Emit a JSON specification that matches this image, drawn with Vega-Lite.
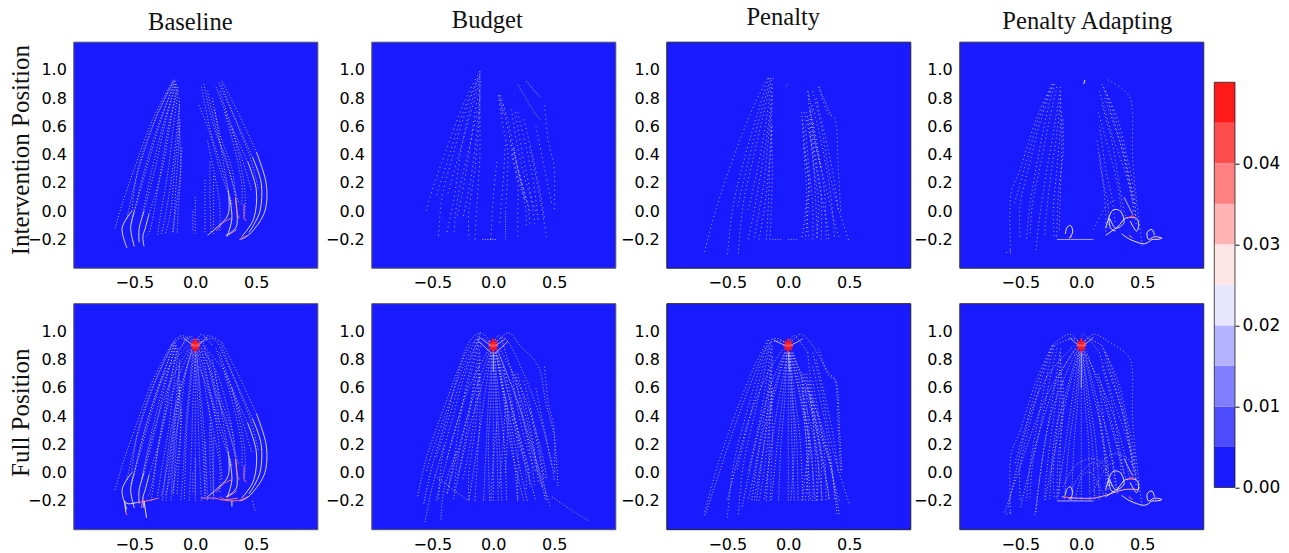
{"$schema":"https://vega.github.io/schema/vega-lite/v6.json","background":"white","padding":{"left":7.3,"top":3.7,"right":0,"bottom":0},"spacing":0,
"config":{"view":{"stroke":null},"axis":{"grid":false,"ticks":false,"domain":false,"labelFont":"DejaVu Sans","labelFontSize":16,"labelColor":"#000","labelPadding":7,"titleFont":"Liberation Serif","titleFontSize":25,"titleFontWeight":"normal","titleColor":"#111"},"title":{"font":"Liberation Serif","fontSize":24.6,"fontWeight":"normal","color":"#111"}},
"datasets":{
"s":[{"t":1,"v":0.047,"x":-0.03,"y":0.87},{"t":1,"v":0.047,"x":0.03,"y":0.93},{"t":2,"v":0.047,"x":0.03,"y":0.87},{"t":2,"v":0.047,"x":-0.03,"y":0.93},{"t":3,"v":0.047,"x":0,"y":0.85},{"t":3,"v":0.047,"x":0,"y":0.95},{"t":4,"v":0.042,"x":-0.04,"y":0.9},{"t":4,"v":0.042,"x":0.04,"y":0.9}],
"a1":[{"t":1,"x":-0.18,"y":0.93},{"t":1,"x":-0.35,"y":0.65},{"t":1,"x":-0.5,"y":0.3},{"t":1,"x":-0.6,"y":0.05},{"t":1,"x":-0.66,"y":-0.13},{"t":2,"x":-0.17,"y":0.93},{"t":2,"x":-0.33,"y":0.65},{"t":2,"x":-0.47,"y":0.3},{"t":2,"x":-0.52,"y":0.0},{"t":3,"x":-0.17,"y":0.92},{"t":3,"x":-0.28,"y":0.65},{"t":3,"x":-0.4,"y":0.3},{"t":3,"x":-0.5,"y":0.0},{"t":4,"x":-0.16,"y":0.9},{"t":4,"x":-0.24,"y":0.65},{"t":4,"x":-0.33,"y":0.3},{"t":4,"x":-0.42,"y":0.0},{"t":5,"x":-0.15,"y":0.88},{"t":5,"x":-0.2,"y":0.65},{"t":5,"x":-0.27,"y":0.3},{"t":5,"x":-0.38,"y":-0.02},{"t":6,"x":-0.14,"y":0.85},{"t":6,"x":-0.18,"y":0.6},{"t":6,"x":-0.22,"y":0.3},{"t":6,"x":-0.28,"y":0.0},{"t":6,"x":-0.31,"y":-0.17},{"t":7,"x":-0.13,"y":0.8},{"t":7,"x":-0.14,"y":0.55},{"t":7,"x":-0.17,"y":0.3},{"t":7,"x":-0.2,"y":0.0},{"t":7,"x":-0.25,"y":-0.17},{"t":8,"x":-0.13,"y":0.6},{"t":8,"x":-0.12,"y":0.3},{"t":8,"x":-0.14,"y":0.0},{"t":8,"x":-0.15,"y":-0.16},{"t":9,"x":-0.11,"y":0.45},{"t":9,"x":-0.13,"y":0.2},{"t":9,"x":-0.19,"y":-0.16},{"t":10,"x":0.0,"y":0.1},{"t":10,"x":0.0,"y":-0.16},{"t":11,"x":0.08,"y":0.22},{"t":11,"x":0.08,"y":-0.16},{"t":12,"x":0.15,"y":0.25},{"t":12,"x":0.15,"y":-0.16},{"t":13,"x":0.22,"y":0.92},{"t":13,"x":0.36,"y":0.68},{"t":13,"x":0.5,"y":0.42},{"t":14,"x":0.19,"y":0.91},{"t":14,"x":0.33,"y":0.65},{"t":14,"x":0.47,"y":0.38},{"t":15,"x":0.2,"y":0.85},{"t":15,"x":0.3,"y":0.6},{"t":15,"x":0.43,"y":0.35},{"t":16,"x":0.07,"y":0.9},{"t":16,"x":0.15,"y":0.6},{"t":16,"x":0.26,"y":0.35},{"t":16,"x":0.33,"y":0.1},{"t":17,"x":0.03,"y":0.75},{"t":17,"x":0.12,"y":0.55},{"t":17,"x":0.2,"y":0.3},{"t":17,"x":0.28,"y":0.1},{"t":18,"x":0.14,"y":0.8},{"t":18,"x":0.2,"y":0.55},{"t":18,"x":0.3,"y":0.3},{"t":18,"x":0.33,"y":0.1},{"t":19,"x":0.16,"y":0.72},{"t":19,"x":0.22,"y":0.4},{"t":19,"x":0.27,"y":0.15},{"t":20,"x":0.3,"y":0.6},{"t":20,"x":0.38,"y":0.3},{"t":20,"x":0.41,"y":0.1},{"t":20,"x":0.4,"y":-0.05},{"t":21,"x":-0.18,"y":0.92},{"t":21,"x":-0.34,"y":0.62},{"t":21,"x":-0.48,"y":0.25},{"t":21,"x":-0.56,"y":-0.05},{"t":22,"x":-0.16,"y":0.92},{"t":22,"x":-0.3,"y":0.62},{"t":22,"x":-0.42,"y":0.28},{"t":22,"x":-0.52,"y":-0.08},{"t":23,"x":-0.155,"y":0.9},{"t":23,"x":-0.26,"y":0.62},{"t":23,"x":-0.36,"y":0.28},{"t":23,"x":-0.44,"y":-0.05},{"t":24,"x":-0.14,"y":0.88},{"t":24,"x":-0.22,"y":0.6},{"t":24,"x":-0.29,"y":0.25},{"t":24,"x":-0.36,"y":-0.1},{"t":24,"x":-0.4,"y":-0.18},{"t":25,"x":-0.13,"y":0.75},{"t":25,"x":-0.16,"y":0.5},{"t":25,"x":-0.2,"y":0.2},{"t":25,"x":-0.25,"y":-0.05},{"t":25,"x":-0.28,"y":-0.17},{"t":26,"x":-0.125,"y":0.65},{"t":26,"x":-0.14,"y":0.4},{"t":26,"x":-0.16,"y":0.15},{"t":26,"x":-0.18,"y":-0.16},{"t":27,"x":0.05,"y":0.88},{"t":27,"x":0.13,"y":0.55},{"t":27,"x":0.22,"y":0.3},{"t":27,"x":0.3,"y":0.05},{"t":28,"x":0.1,"y":0.85},{"t":28,"x":0.18,"y":0.55},{"t":28,"x":0.27,"y":0.3},{"t":28,"x":0.36,"y":0.05},{"t":29,"x":0.21,"y":0.91},{"t":29,"x":0.34,"y":0.62},{"t":29,"x":0.45,"y":0.38},{"t":29,"x":0.52,"y":0.15},{"t":30,"x":0.17,"y":0.88},{"t":30,"x":0.28,"y":0.62},{"t":30,"x":0.38,"y":0.38},{"t":30,"x":0.46,"y":0.15},{"t":31,"x":0.24,"y":0.7},{"t":31,"x":0.32,"y":0.45},{"t":31,"x":0.38,"y":0.2},{"t":31,"x":0.38,"y":0.05},{"t":32,"x":0.1,"y":0.5},{"t":32,"x":0.16,"y":0.25},{"t":32,"x":0.2,"y":0.05},{"t":32,"x":0.2,"y":-0.15},{"t":33,"x":0.12,"y":0.35},{"t":33,"x":0.12,"y":0.1},{"t":33,"x":0.13,"y":-0.16},{"t":34,"x":-0.02,"y":0.0},{"t":34,"x":-0.02,"y":-0.15}],
"a1h":[{"t":1,"v":0.022,"x":-0.52,"y":0.0},{"t":1,"v":0.022,"x":-0.6,"y":-0.12},{"t":1,"v":0.022,"x":-0.56,"y":-0.26},{"t":2,"v":0.022,"x":-0.5,"y":0.0},{"t":2,"v":0.022,"x":-0.53,"y":-0.12},{"t":2,"v":0.022,"x":-0.5,"y":-0.25},{"t":3,"v":0.022,"x":-0.42,"y":0.0},{"t":3,"v":0.022,"x":-0.46,"y":-0.12},{"t":3,"v":0.022,"x":-0.46,"y":-0.22},{"t":4,"v":0.022,"x":-0.38,"y":-0.02},{"t":4,"v":0.022,"x":-0.41,"y":-0.12},{"t":4,"v":0.022,"x":-0.43,"y":-0.18},{"t":4,"v":0.022,"x":-0.42,"y":-0.25},{"t":6,"v":0.022,"x":0.5,"y":0.42},{"t":6,"v":0.022,"x":0.58,"y":0.2},{"t":6,"v":0.022,"x":0.57,"y":0.0},{"t":6,"v":0.022,"x":0.46,"y":-0.15},{"t":6,"v":0.022,"x":0.37,"y":-0.2},{"t":7,"v":0.022,"x":0.47,"y":0.38},{"t":7,"v":0.022,"x":0.54,"y":0.2},{"t":7,"v":0.022,"x":0.53,"y":0.0},{"t":7,"v":0.022,"x":0.44,"y":-0.15},{"t":8,"v":0.022,"x":0.43,"y":0.35},{"t":8,"v":0.022,"x":0.5,"y":0.15},{"t":8,"v":0.022,"x":0.48,"y":-0.05},{"t":8,"v":0.022,"x":0.38,"y":-0.18},{"t":9,"v":0.022,"x":0.33,"y":0.1},{"t":9,"v":0.022,"x":0.34,"y":-0.1},{"t":9,"v":0.022,"x":0.25,"y":-0.17},{"t":10,"v":0.022,"x":0.28,"y":0.1},{"t":10,"v":0.022,"x":0.3,"y":-0.05},{"t":10,"v":0.022,"x":0.26,"y":-0.18},{"t":11,"v":0.022,"x":0.27,"y":0.15},{"t":11,"v":0.022,"x":0.27,"y":-0.02},{"t":11,"v":0.022,"x":0.17,"y":-0.12},{"t":11,"v":0.022,"x":0.1,"y":-0.17},{"t":13,"v":0.037,"x":0.33,"y":0.1},{"t":13,"v":0.037,"x":0.34,"y":0.0},{"t":13,"v":0.037,"x":0.36,"y":-0.05},{"t":14,"v":0.037,"x":0.4,"y":0.05},{"t":14,"v":0.037,"x":0.4,"y":-0.05},{"t":14,"v":0.037,"x":0.42,"y":-0.06},{"t":15,"v":0.037,"x":0.3,"y":-0.05},{"t":15,"v":0.037,"x":0.23,"y":-0.08},{"t":15,"v":0.037,"x":0.17,"y":-0.14},{"t":16,"v":0.037,"x":0.36,"y":-0.2},{"t":16,"v":0.037,"x":0.43,"y":-0.17},{"t":17,"v":0.037,"x":0.27,"y":-0.17},{"t":17,"v":0.037,"x":0.34,"y":-0.13}],
"a2":[{"t":1,"x":0,"y":0.9},{"t":1,"x":-0.1,"y":0.97},{"t":1,"x":-0.18,"y":0.93},{"t":2,"x":0,"y":0.9},{"t":2,"x":-0.12,"y":0.95},{"t":2,"x":-0.17,"y":0.92},{"t":3,"x":0,"y":0.9},{"t":3,"x":0.1,"y":0.97},{"t":3,"x":0.22,"y":0.92},{"t":4,"x":0,"y":0.9},{"t":4,"x":0.13,"y":0.95},{"t":4,"x":0.19,"y":0.91},{"t":5,"x":0,"y":0.9},{"t":5,"x":0.05,"y":0.98},{"t":5,"x":0.14,"y":0.9},{"t":6,"x":-0.02,"y":0.88},{"t":6,"x":-0.08,"y":0.7},{"t":6,"x":-0.12,"y":0.45},{"t":6,"x":-0.17,"y":0.2},{"t":6,"x":-0.2,"y":-0.2},{"t":7,"x":-0.02,"y":0.85},{"t":7,"x":-0.05,"y":0.6},{"t":7,"x":-0.08,"y":0.3},{"t":7,"x":-0.1,"y":0},{"t":7,"x":-0.12,"y":-0.2},{"t":8,"x":0,"y":0.85},{"t":8,"x":-0.02,"y":0.5},{"t":8,"x":-0.03,"y":0.2},{"t":8,"x":-0.05,"y":-0.2},{"t":9,"x":0,"y":0.85},{"t":9,"x":0,"y":0.5},{"t":9,"x":0,"y":0.2},{"t":9,"x":0,"y":-0.2},{"t":10,"x":0,"y":0.85},{"t":10,"x":0.02,"y":0.5},{"t":10,"x":0.03,"y":0.2},{"t":10,"x":0.05,"y":-0.2},{"t":11,"x":0.01,"y":0.85},{"t":11,"x":0.05,"y":0.5},{"t":11,"x":0.08,"y":0.2},{"t":11,"x":0.1,"y":-0.2},{"t":12,"x":0.02,"y":0.85},{"t":12,"x":0.08,"y":0.6},{"t":12,"x":0.13,"y":0.3},{"t":12,"x":0.15,"y":-0.2},{"t":13,"x":-0.03,"y":0.85},{"t":13,"x":-0.12,"y":0.6},{"t":13,"x":-0.2,"y":0.3},{"t":13,"x":-0.27,"y":-0.2},{"t":14,"x":-0.04,"y":0.87},{"t":14,"x":-0.15,"y":0.65},{"t":14,"x":-0.28,"y":0.3},{"t":14,"x":-0.36,"y":-0.2},{"t":15,"x":0.03,"y":0.87},{"t":15,"x":0.13,"y":0.7},{"t":15,"x":0.2,"y":0.35},{"t":16,"x":0,"y":0.9},{"t":16,"x":-0.06,"y":0.96},{"t":16,"x":-0.14,"y":0.85},{"t":17,"x":0.47,"y":-0.2},{"t":17,"x":0.49,"y":-0.27},{"t":18,"x":-0.03,"y":0.87},{"t":18,"x":-0.1,"y":0.65},{"t":18,"x":-0.17,"y":0.35},{"t":18,"x":-0.24,"y":-0.2},{"t":19,"x":-0.01,"y":0.86},{"t":19,"x":-0.04,"y":0.6},{"t":19,"x":-0.07,"y":0.3},{"t":19,"x":-0.09,"y":-0.2},{"t":20,"x":0.01,"y":0.86},{"t":20,"x":0.03,"y":0.6},{"t":20,"x":0.06,"y":0.2},{"t":20,"x":0.08,"y":-0.2},{"t":21,"x":0.03,"y":0.86},{"t":21,"x":0.11,"y":0.6},{"t":21,"x":0.18,"y":0.3},{"t":21,"x":0.22,"y":-0.05},{"t":22,"x":-0.05,"y":0.88},{"t":22,"x":-0.2,"y":0.65},{"t":22,"x":-0.34,"y":0.3},{"t":22,"x":-0.44,"y":-0.05},{"t":23,"x":-0.06,"y":0.9},{"t":23,"x":-0.25,"y":0.7},{"t":23,"x":-0.4,"y":0.35},{"t":23,"x":-0.5,"y":0.0},{"t":24,"x":0.05,"y":0.88},{"t":24,"x":0.18,"y":0.7},{"t":24,"x":0.28,"y":0.4},{"t":24,"x":0.32,"y":0.2},{"t":25,"x":0.06,"y":0.9},{"t":25,"x":0.25,"y":0.7},{"t":25,"x":0.37,"y":0.42},{"t":26,"x":0,"y":0.9},{"t":26,"x":-0.04,"y":0.97},{"t":26,"x":-0.12,"y":0.88},{"t":27,"x":0,"y":0.9},{"t":27,"x":0.02,"y":0.95},{"t":27,"x":0.1,"y":0.88}],
"a2h":[{"t":5,"v":0.017,"x":-0.1,"y":0.96},{"t":5,"v":0.017,"x":0,"y":0.9},{"t":5,"v":0.017,"x":0.1,"y":0.96},{"t":6,"v":0.037,"x":-0.3,"y":-0.18},{"t":6,"v":0.037,"x":-0.4,"y":-0.2},{"t":6,"v":0.037,"x":-0.47,"y":-0.21},{"t":7,"v":0.037,"x":-0.43,"y":-0.18},{"t":7,"v":0.037,"x":-0.44,"y":-0.25},{"t":8,"v":0.037,"x":-0.57,"y":-0.28},{"t":8,"v":0.037,"x":-0.56,"y":-0.3},{"t":9,"v":0.037,"x":0.05,"y":-0.18},{"t":9,"v":0.037,"x":0.16,"y":-0.18},{"t":9,"v":0.037,"x":0.2,"y":-0.19},{"t":10,"v":0.037,"x":0.2,"y":-0.19},{"t":10,"v":0.037,"x":0.3,"y":-0.2},{"t":10,"v":0.037,"x":0.4,"y":-0.19},{"t":11,"v":0.037,"x":0.2,"y":-0.17},{"t":11,"v":0.037,"x":0.25,"y":-0.19},{"t":11,"v":0.037,"x":0.35,"y":-0.18},{"t":12,"v":0.022,"x":-0.47,"y":-0.21},{"t":12,"v":0.022,"x":-0.55,"y":-0.22},{"t":12,"v":0.022,"x":-0.58,"y":-0.2},{"t":13,"v":0.022,"x":0.3,"y":-0.2},{"t":13,"v":0.022,"x":0.3,"y":-0.24},{"t":14,"v":0.022,"x":-0.42,"y":-0.2},{"t":14,"v":0.022,"x":-0.4,"y":-0.32},{"t":15,"v":0.022,"x":-0.57,"y":-0.28},{"t":15,"v":0.022,"x":-0.58,"y":-0.2}],
"b1":[{"t":1,"x":-0.11,"y":0.99},{"t":1,"x":-0.25,"y":0.75},{"t":1,"x":-0.4,"y":0.4},{"t":1,"x":-0.5,"y":0.15},{"t":1,"x":-0.55,"y":0.0},{"t":2,"x":-0.11,"y":0.97},{"t":2,"x":-0.23,"y":0.7},{"t":2,"x":-0.33,"y":0.4},{"t":2,"x":-0.42,"y":0.1},{"t":2,"x":-0.45,"y":-0.2},{"t":3,"x":-0.11,"y":0.95},{"t":3,"x":-0.2,"y":0.7},{"t":3,"x":-0.27,"y":0.4},{"t":3,"x":-0.32,"y":0.1},{"t":3,"x":-0.38,"y":-0.15},{"t":4,"x":-0.1,"y":0.92},{"t":4,"x":-0.15,"y":0.7},{"t":4,"x":-0.2,"y":0.4},{"t":4,"x":-0.26,"y":0.1},{"t":4,"x":-0.3,"y":-0.05},{"t":5,"x":-0.11,"y":0.85},{"t":5,"x":-0.12,"y":0.6},{"t":5,"x":-0.15,"y":0.3},{"t":5,"x":-0.2,"y":0.0},{"t":5,"x":-0.2,"y":-0.2},{"t":6,"x":-0.11,"y":0.7},{"t":6,"x":-0.11,"y":0.4},{"t":6,"x":-0.13,"y":0.1},{"t":6,"x":-0.15,"y":-0.2},{"t":7,"x":0.04,"y":0.82},{"t":7,"x":0.08,"y":0.6},{"t":7,"x":0.12,"y":0.4},{"t":7,"x":0.1,"y":0.0},{"t":8,"x":0.06,"y":0.82},{"t":8,"x":0.13,"y":0.6},{"t":8,"x":0.2,"y":0.3},{"t":8,"x":0.28,"y":0.05},{"t":8,"x":0.3,"y":-0.1},{"t":9,"x":0.15,"y":0.72},{"t":9,"x":0.2,"y":0.45},{"t":9,"x":0.27,"y":0.2},{"t":9,"x":0.35,"y":0.0},{"t":10,"x":0.2,"y":0.7},{"t":10,"x":0.27,"y":0.45},{"t":10,"x":0.33,"y":0.2},{"t":10,"x":0.37,"y":-0.08},{"t":14,"x":0.42,"y":0.75},{"t":14,"x":0.45,"y":0.5},{"t":14,"x":0.5,"y":0.3},{"t":14,"x":0.5,"y":0.0},{"t":15,"x":0.35,"y":0.6},{"t":15,"x":0.42,"y":0.3},{"t":15,"x":0.48,"y":0.05},{"t":16,"x":0.3,"y":0.45},{"t":16,"x":0.37,"y":0.15},{"t":16,"x":0.44,"y":-0.2},{"t":17,"x":0.03,"y":0.35},{"t":17,"x":0.0,"y":0.1},{"t":17,"x":-0.02,"y":-0.2},{"t":18,"x":0.15,"y":0.4},{"t":18,"x":0.2,"y":0.2},{"t":18,"x":0.2,"y":-0.05},{"t":18,"x":0.2,"y":-0.2},{"t":20,"x":-0.11,"y":0.96},{"t":20,"x":-0.24,"y":0.72},{"t":20,"x":-0.36,"y":0.4},{"t":20,"x":-0.47,"y":0.1},{"t":21,"x":-0.12,"y":0.9},{"t":21,"x":-0.2,"y":0.65},{"t":21,"x":-0.3,"y":0.35},{"t":21,"x":-0.38,"y":0.1},{"t":22,"x":-0.11,"y":0.8},{"t":22,"x":-0.17,"y":0.55},{"t":22,"x":-0.24,"y":0.3},{"t":22,"x":-0.3,"y":0.05},{"t":22,"x":-0.32,"y":-0.15},{"t":23,"x":-0.12,"y":0.7},{"t":23,"x":-0.15,"y":0.45},{"t":23,"x":-0.19,"y":0.2},{"t":23,"x":-0.25,"y":-0.05},{"t":24,"x":0.08,"y":0.75},{"t":24,"x":0.14,"y":0.5},{"t":24,"x":0.22,"y":0.25},{"t":24,"x":0.3,"y":0.0},{"t":25,"x":0.1,"y":0.5},{"t":25,"x":0.08,"y":0.2},{"t":25,"x":0.05,"y":-0.1},{"t":26,"x":0.18,"y":0.7},{"t":26,"x":0.24,"y":0.4},{"t":26,"x":0.3,"y":0.15},{"t":26,"x":0.34,"y":-0.1},{"t":27,"x":0.14,"y":0.5},{"t":27,"x":0.18,"y":0.3},{"t":27,"x":0.26,"y":0.05},{"t":27,"x":0.27,"y":-0.12},{"t":28,"x":0.25,"y":0.65},{"t":28,"x":0.32,"y":0.4},{"t":28,"x":0.38,"y":0.15},{"t":28,"x":0.42,"y":-0.05}],
"b1h":[{"t":1,"v":0.022,"x":0.17,"y":0.45},{"t":1,"v":0.022,"x":0.2,"y":0.3},{"t":1,"v":0.022,"x":0.26,"y":0.08},{"t":2,"v":0.022,"x":0.05,"y":0.82},{"t":2,"v":0.022,"x":0.08,"y":0.68},{"t":3,"v":0.022,"x":0.27,"y":0.92},{"t":3,"v":0.022,"x":0.38,"y":0.81},{"t":4,"v":0.017,"x":0.2,"y":0.9},{"t":4,"v":0.017,"x":0.3,"y":0.75},{"t":4,"v":0.017,"x":0.38,"y":0.65},{"t":5,"v":0.022,"x":-0.09,"y":-0.2},{"t":5,"v":0.022,"x":0.03,"y":-0.2},{"t":6,"v":0.017,"x":0.1,"y":0.0},{"t":6,"v":0.017,"x":0.1,"y":-0.2},{"t":7,"v":0.017,"x":-0.11,"y":0.99},{"t":7,"v":0.017,"x":-0.11,"y":0.7}],
"b2":[{"t":1,"x":0,"y":0.9},{"t":1,"x":-0.1,"y":0.99},{"t":1,"x":-0.2,"y":0.92},{"t":1,"x":-0.28,"y":0.75},{"t":1,"x":-0.43,"y":0.4},{"t":1,"x":-0.55,"y":0.1},{"t":1,"x":-0.62,"y":-0.17},{"t":2,"x":0,"y":0.9},{"t":2,"x":-0.12,"y":0.95},{"t":2,"x":-0.25,"y":0.8},{"t":2,"x":-0.38,"y":0.4},{"t":2,"x":-0.5,"y":0.05},{"t":2,"x":-0.57,"y":-0.22},{"t":3,"x":0,"y":0.9},{"t":3,"x":0.12,"y":0.99},{"t":3,"x":0.22,"y":0.9},{"t":3,"x":0.37,"y":0.75},{"t":3,"x":0.43,"y":0.5},{"t":3,"x":0.5,"y":0.25},{"t":3,"x":0.53,"y":-0.1},{"t":4,"x":0,"y":0.9},{"t":4,"x":0.1,"y":0.95},{"t":4,"x":0.25,"y":0.7},{"t":4,"x":0.38,"y":0.4},{"t":4,"x":0.47,"y":0.1},{"t":4,"x":0.5,"y":-0.05},{"t":5,"x":0,"y":0.9},{"t":5,"x":0.05,"y":0.97},{"t":5,"x":0.12,"y":0.8},{"t":5,"x":0.25,"y":0.45},{"t":5,"x":0.35,"y":0.1},{"t":5,"x":0.47,"y":-0.25},{"t":6,"x":-0.02,"y":0.85},{"t":6,"x":-0.1,"y":0.6},{"t":6,"x":-0.2,"y":0.3},{"t":6,"x":-0.33,"y":-0.2},{"t":7,"x":-0.02,"y":0.85},{"t":7,"x":-0.07,"y":0.55},{"t":7,"x":-0.12,"y":0.25},{"t":7,"x":-0.2,"y":-0.2},{"t":8,"x":-0.01,"y":0.85},{"t":8,"x":-0.04,"y":0.5},{"t":8,"x":-0.06,"y":0.15},{"t":8,"x":-0.08,"y":-0.2},{"t":9,"x":0,"y":0.85},{"t":9,"x":0,"y":0.5},{"t":9,"x":0,"y":0.2},{"t":9,"x":0,"y":-0.2},{"t":10,"x":0,"y":0.85},{"t":10,"x":0.02,"y":0.5},{"t":10,"x":0.03,"y":0.2},{"t":10,"x":0.04,"y":-0.2},{"t":11,"x":0.01,"y":0.85},{"t":11,"x":0.05,"y":0.5},{"t":11,"x":0.09,"y":0.2},{"t":11,"x":0.11,"y":-0.2},{"t":12,"x":0.02,"y":0.85},{"t":12,"x":0.1,"y":0.5},{"t":12,"x":0.17,"y":0.1},{"t":12,"x":0.2,"y":-0.2},{"t":13,"x":0.03,"y":0.85},{"t":13,"x":0.14,"y":0.5},{"t":13,"x":0.25,"y":0.1},{"t":13,"x":0.35,"y":-0.2},{"t":14,"x":0.02,"y":0.85},{"t":14,"x":0.08,"y":0.55},{"t":14,"x":0.14,"y":0.2},{"t":14,"x":0.25,"y":-0.2},{"t":15,"x":0.03,"y":0.87},{"t":15,"x":0.18,"y":0.55},{"t":15,"x":0.33,"y":0.15},{"t":15,"x":0.43,"y":-0.2},{"t":16,"x":-0.56,"y":-0.35},{"t":16,"x":-0.5,"y":-0.1},{"t":16,"x":-0.4,"y":0.2},{"t":17,"x":-0.43,"y":-0.33},{"t":17,"x":-0.4,"y":-0.1},{"t":17,"x":-0.3,"y":0.15},{"t":18,"x":-0.48,"y":-0.02},{"t":18,"x":-0.33,"y":-0.12},{"t":18,"x":-0.2,"y":-0.2},{"t":19,"x":0.48,"y":-0.17},{"t":19,"x":0.65,"y":-0.27},{"t":19,"x":0.78,"y":-0.34},{"t":20,"x":-0.03,"y":0.86},{"t":20,"x":-0.14,"y":0.6},{"t":20,"x":-0.26,"y":0.25},{"t":20,"x":-0.38,"y":-0.15},{"t":21,"x":-0.04,"y":0.87},{"t":21,"x":-0.2,"y":0.6},{"t":21,"x":-0.33,"y":0.25},{"t":21,"x":-0.47,"y":-0.2},{"t":22,"x":0.04,"y":0.86},{"t":22,"x":0.2,"y":0.5},{"t":22,"x":0.3,"y":0.2},{"t":22,"x":0.4,"y":-0.1},{"t":23,"x":0.02,"y":0.85},{"t":23,"x":0.12,"y":0.45},{"t":23,"x":0.2,"y":0.1},{"t":23,"x":0.28,"y":-0.2},{"t":24,"x":-0.01,"y":0.85},{"t":24,"x":-0.02,"y":0.5},{"t":24,"x":-0.04,"y":0.2},{"t":24,"x":-0.03,"y":-0.2},{"t":25,"x":0.01,"y":0.85},{"t":25,"x":0.03,"y":0.5},{"t":25,"x":0.05,"y":0.2},{"t":25,"x":0.07,"y":-0.2},{"t":26,"x":0.05,"y":0.88},{"t":26,"x":0.25,"y":0.55},{"t":26,"x":0.38,"y":0.2},{"t":26,"x":0.44,"y":-0.05}],
"b2h":[{"t":4,"v":0.017,"x":-0.1,"y":0.95},{"t":4,"v":0.017,"x":0,"y":0.9},{"t":4,"v":0.017,"x":0.1,"y":0.95},{"t":5,"v":0.017,"x":0,"y":0.88},{"t":5,"v":0.017,"x":0,"y":0.72},{"t":6,"v":0.017,"x":-0.12,"y":0.93},{"t":6,"v":0.017,"x":-0.02,"y":0.85},{"t":7,"v":0.017,"x":0.12,"y":0.93},{"t":7,"v":0.017,"x":0.02,"y":0.85}],
"c1":[{"t":1,"x":-0.17,"y":0.94},{"t":1,"x":-0.28,"y":0.75},{"t":1,"x":-0.42,"y":0.45},{"t":1,"x":-0.58,"y":0.05},{"t":1,"x":-0.69,"y":-0.3},{"t":2,"x":-0.16,"y":0.94},{"t":2,"x":-0.25,"y":0.7},{"t":2,"x":-0.35,"y":0.4},{"t":2,"x":-0.45,"y":0.05},{"t":2,"x":-0.5,"y":-0.32},{"t":3,"x":-0.14,"y":0.93},{"t":3,"x":-0.2,"y":0.7},{"t":3,"x":-0.28,"y":0.4},{"t":3,"x":-0.37,"y":0.05},{"t":3,"x":-0.41,"y":-0.3},{"t":4,"x":-0.13,"y":0.9},{"t":4,"x":-0.15,"y":0.7},{"t":4,"x":-0.2,"y":0.4},{"t":4,"x":-0.28,"y":0.0},{"t":4,"x":-0.33,"y":-0.2},{"t":5,"x":-0.13,"y":0.82},{"t":5,"x":-0.14,"y":0.6},{"t":5,"x":-0.16,"y":0.3},{"t":5,"x":-0.2,"y":0.0},{"t":5,"x":-0.24,"y":-0.2},{"t":6,"x":-0.14,"y":0.6},{"t":6,"x":-0.13,"y":0.3},{"t":6,"x":-0.14,"y":0.0},{"t":6,"x":-0.15,"y":-0.2},{"t":8,"x":0.16,"y":0.85},{"t":8,"x":0.2,"y":0.55},{"t":8,"x":0.3,"y":0.2},{"t":8,"x":0.37,"y":-0.05},{"t":8,"x":0.42,"y":-0.2},{"t":9,"x":0.2,"y":0.85},{"t":9,"x":0.27,"y":0.6},{"t":9,"x":0.33,"y":0.3},{"t":9,"x":0.4,"y":0.05},{"t":9,"x":0.5,"y":-0.22},{"t":10,"x":0.25,"y":0.88},{"t":10,"x":0.32,"y":0.7},{"t":10,"x":0.39,"y":0.63},{"t":10,"x":0.41,"y":0.3},{"t":10,"x":0.43,"y":0.0},{"t":11,"x":0.13,"y":0.7},{"t":11,"x":0.2,"y":0.45},{"t":11,"x":0.25,"y":0.2},{"t":11,"x":0.32,"y":-0.1},{"t":11,"x":0.33,"y":-0.2},{"t":12,"x":0.11,"y":0.7},{"t":12,"x":0.13,"y":0.4},{"t":12,"x":0.15,"y":0.1},{"t":12,"x":0.11,"y":-0.2},{"t":13,"x":0.14,"y":0.6},{"t":13,"x":0.17,"y":0.3},{"t":13,"x":0.2,"y":0.05},{"t":13,"x":0.2,"y":-0.2},{"t":14,"x":0.17,"y":0.65},{"t":14,"x":0.23,"y":0.35},{"t":14,"x":0.27,"y":0.1},{"t":14,"x":0.27,"y":-0.2},{"t":15,"x":0.2,"y":0.75},{"t":15,"x":0.28,"y":0.45},{"t":15,"x":0.35,"y":0.1},{"t":15,"x":0.38,"y":-0.2},{"t":16,"x":-0.15,"y":0.92},{"t":16,"x":-0.23,"y":0.68},{"t":16,"x":-0.32,"y":0.38},{"t":16,"x":-0.42,"y":0.02},{"t":17,"x":-0.14,"y":0.88},{"t":17,"x":-0.18,"y":0.65},{"t":17,"x":-0.24,"y":0.35},{"t":17,"x":-0.33,"y":0.0},{"t":18,"x":-0.14,"y":0.72},{"t":18,"x":-0.17,"y":0.45},{"t":18,"x":-0.2,"y":0.2},{"t":18,"x":-0.25,"y":-0.05},{"t":18,"x":-0.28,"y":-0.2},{"t":19,"x":-0.13,"y":0.6},{"t":19,"x":-0.15,"y":0.35},{"t":19,"x":-0.16,"y":0.1},{"t":19,"x":-0.18,"y":-0.2},{"t":20,"x":0.12,"y":0.65},{"t":20,"x":0.14,"y":0.4},{"t":20,"x":0.17,"y":0.15},{"t":20,"x":0.14,"y":-0.2},{"t":21,"x":0.15,"y":0.7},{"t":21,"x":0.2,"y":0.4},{"t":21,"x":0.22,"y":0.15},{"t":21,"x":0.24,"y":-0.2},{"t":22,"x":0.18,"y":0.55},{"t":22,"x":0.21,"y":0.3},{"t":22,"x":0.25,"y":0.05},{"t":22,"x":0.23,"y":-0.2},{"t":23,"x":0.2,"y":0.65},{"t":23,"x":0.26,"y":0.35},{"t":23,"x":0.3,"y":0.1},{"t":23,"x":0.31,"y":-0.2},{"t":24,"x":0.23,"y":0.8},{"t":24,"x":0.31,"y":0.5},{"t":24,"x":0.37,"y":0.25},{"t":24,"x":0.41,"y":0},{"t":25,"x":0.13,"y":0.45},{"t":25,"x":0.17,"y":0.2},{"t":25,"x":0.15,"y":0.0},{"t":25,"x":0.17,"y":-0.2}],
"c1h":[{"t":1,"v":0.022,"x":0.18,"y":0.72},{"t":1,"v":0.022,"x":0.22,"y":0.5},{"t":1,"v":0.022,"x":0.27,"y":0.3},{"t":2,"v":0.017,"x":0.16,"y":0.85},{"t":2,"v":0.017,"x":0.2,"y":0.7},{"t":3,"v":0.017,"x":0.25,"y":0.88},{"t":3,"v":0.017,"x":0.35,"y":0.68},{"t":4,"v":0.017,"x":-0.17,"y":0.94},{"t":4,"v":0.017,"x":-0.11,"y":0.94},{"t":5,"v":0.017,"x":-0.13,"y":-0.2},{"t":5,"v":0.017,"x":-0.05,"y":-0.2},{"t":6,"v":0.017,"x":0.0,"y":-0.2},{"t":6,"v":0.017,"x":0.08,"y":-0.2},{"t":7,"v":0.017,"x":-0.02,"y":0.88},{"t":7,"v":0.017,"x":0.0,"y":0.9}],
"c2":[{"t":1,"x":0,"y":0.9},{"t":1,"x":-0.08,"y":0.95},{"t":1,"x":-0.15,"y":0.94},{"t":2,"x":0,"y":0.9},{"t":2,"x":0.1,"y":0.98},{"t":2,"x":0.2,"y":0.9},{"t":2,"x":0.32,"y":0.72},{"t":2,"x":0.4,"y":0.62},{"t":2,"x":0.42,"y":0.3},{"t":2,"x":0.44,"y":0},{"t":3,"x":0,"y":0.9},{"t":3,"x":0.05,"y":0.97},{"t":3,"x":0.16,"y":0.85},{"t":4,"x":0,"y":0.9},{"t":4,"x":-0.05,"y":0.93},{"t":4,"x":-0.17,"y":0.9},{"t":4,"x":-0.3,"y":0.65},{"t":4,"x":-0.45,"y":0.3},{"t":4,"x":-0.68,"y":-0.3},{"t":5,"x":-0.01,"y":0.85},{"t":5,"x":-0.06,"y":0.6},{"t":5,"x":-0.12,"y":0.3},{"t":5,"x":-0.2,"y":-0.2},{"t":6,"x":-0.02,"y":0.85},{"t":6,"x":-0.1,"y":0.6},{"t":6,"x":-0.18,"y":0.3},{"t":6,"x":-0.26,"y":-0.2},{"t":7,"x":-0.01,"y":0.85},{"t":7,"x":-0.03,"y":0.5},{"t":7,"x":-0.06,"y":0.2},{"t":7,"x":-0.08,"y":-0.2},{"t":8,"x":0,"y":0.85},{"t":8,"x":0,"y":0.5},{"t":8,"x":0,"y":0.2},{"t":8,"x":0,"y":-0.2},{"t":9,"x":0,"y":0.85},{"t":9,"x":0.02,"y":0.5},{"t":9,"x":0.03,"y":0.2},{"t":9,"x":0.05,"y":-0.2},{"t":10,"x":0.01,"y":0.85},{"t":10,"x":0.06,"y":0.5},{"t":10,"x":0.1,"y":0.2},{"t":10,"x":0.12,"y":-0.2},{"t":11,"x":0.01,"y":0.85},{"t":11,"x":0.08,"y":0.6},{"t":11,"x":0.14,"y":0.3},{"t":11,"x":0.18,"y":-0.2},{"t":12,"x":0.03,"y":0.85},{"t":12,"x":0.12,"y":0.55},{"t":12,"x":0.22,"y":0.2},{"t":12,"x":0.28,"y":-0.2},{"t":13,"x":0.03,"y":0.85},{"t":13,"x":0.18,"y":0.55},{"t":13,"x":0.3,"y":0.25},{"t":13,"x":0.42,"y":-0.3},{"t":14,"x":-0.03,"y":0.85},{"t":14,"x":-0.15,"y":0.6},{"t":14,"x":-0.27,"y":0.2},{"t":14,"x":-0.38,"y":-0.25},{"t":15,"x":0.15,"y":0.6},{"t":15,"x":0.25,"y":0.3},{"t":15,"x":0.35,"y":0.05},{"t":15,"x":0.4,"y":-0.3},{"t":16,"x":-0.03,"y":0.85},{"t":16,"x":-0.13,"y":0.55},{"t":16,"x":-0.23,"y":0.2},{"t":16,"x":-0.3,"y":-0.2},{"t":17,"x":-0.01,"y":0.85},{"t":17,"x":-0.05,"y":0.5},{"t":17,"x":-0.09,"y":0.2},{"t":17,"x":-0.14,"y":-0.2},{"t":18,"x":0.01,"y":0.85},{"t":18,"x":0.04,"y":0.5},{"t":18,"x":0.07,"y":0.2},{"t":18,"x":0.08,"y":-0.2},{"t":19,"x":0.02,"y":0.85},{"t":19,"x":0.1,"y":0.55},{"t":19,"x":0.17,"y":0.25},{"t":19,"x":0.22,"y":-0.2},{"t":20,"x":0.04,"y":0.85},{"t":20,"x":0.15,"y":0.55},{"t":20,"x":0.26,"y":0.2},{"t":20,"x":0.34,"y":-0.2},{"t":21,"x":0.01,"y":0.85},{"t":21,"x":0.03,"y":0.55},{"t":21,"x":0.05,"y":0.2},{"t":21,"x":0.02,"y":-0.2},{"t":22,"x":-0.05,"y":0.87},{"t":22,"x":-0.2,"y":0.65},{"t":22,"x":-0.35,"y":0.3},{"t":22,"x":-0.5,"y":-0.2}],
"c2h":[{"t":4,"v":0.017,"x":-0.12,"y":0.94},{"t":4,"v":0.017,"x":0,"y":0.9},{"t":4,"v":0.017,"x":0.12,"y":0.95},{"t":5,"v":0.017,"x":0,"y":0.86},{"t":5,"v":0.017,"x":0.01,"y":0.72}],
"d1":[{"t":1,"x":-0.24,"y":0.9},{"t":1,"x":-0.37,"y":0.65},{"t":1,"x":-0.5,"y":0.3},{"t":1,"x":-0.58,"y":0.1},{"t":1,"x":-0.58,"y":-0.3},{"t":2,"x":-0.23,"y":0.9},{"t":2,"x":-0.33,"y":0.65},{"t":2,"x":-0.42,"y":0.35},{"t":2,"x":-0.5,"y":0.05},{"t":2,"x":-0.5,"y":-0.2},{"t":3,"x":-0.22,"y":0.9},{"t":3,"x":-0.28,"y":0.7},{"t":3,"x":-0.35,"y":0.4},{"t":3,"x":-0.42,"y":0.05},{"t":3,"x":-0.45,"y":-0.2},{"t":4,"x":-0.17,"y":0.88},{"t":4,"x":-0.22,"y":0.6},{"t":4,"x":-0.3,"y":0.2},{"t":4,"x":-0.35,"y":-0.1},{"t":4,"x":-0.37,"y":-0.28},{"t":5,"x":-0.17,"y":0.85},{"t":5,"x":-0.17,"y":0.6},{"t":5,"x":-0.2,"y":0.3},{"t":5,"x":-0.23,"y":0},{"t":5,"x":-0.22,"y":-0.18},{"t":6,"x":-0.15,"y":0.65},{"t":6,"x":-0.15,"y":0.4},{"t":6,"x":-0.19,"y":0.1},{"t":6,"x":-0.2,"y":-0.18},{"t":7,"x":0.17,"y":0.9},{"t":7,"x":0.3,"y":0.65},{"t":7,"x":0.37,"y":0.4},{"t":7,"x":0.43,"y":0.15},{"t":7,"x":0.45,"y":-0.1},{"t":8,"x":0.22,"y":0.93},{"t":8,"x":0.38,"y":0.83},{"t":8,"x":0.42,"y":0.7},{"t":8,"x":0.42,"y":0.4},{"t":8,"x":0.45,"y":0.1},{"t":8,"x":0.5,"y":-0.25},{"t":9,"x":0.15,"y":0.85},{"t":9,"x":0.25,"y":0.55},{"t":9,"x":0.35,"y":0.3},{"t":9,"x":0.42,"y":0.1},{"t":9,"x":0.42,"y":-0.05},{"t":10,"x":0.17,"y":0.75},{"t":10,"x":0.25,"y":0.5},{"t":10,"x":0.3,"y":0.25},{"t":10,"x":0.35,"y":0},{"t":10,"x":0.38,"y":-0.05},{"t":11,"x":0.15,"y":0.6},{"t":11,"x":0.2,"y":0.3},{"t":11,"x":0.25,"y":0.1},{"t":11,"x":0.28,"y":-0.1},{"t":12,"x":0.15,"y":0.4},{"t":12,"x":0.18,"y":0.2},{"t":12,"x":0.2,"y":0},{"t":12,"x":0.2,"y":-0.15},{"t":13,"x":0.19,"y":0.8},{"t":13,"x":0.33,"y":0.45},{"t":13,"x":0.4,"y":0.15},{"t":13,"x":0.45,"y":-0.05},{"t":15,"x":-0.58,"y":-0.28},{"t":15,"x":-0.63,"y":-0.3},{"t":16,"x":0.1,"y":-0.13},{"t":16,"x":0.2,"y":0.03},{"t":16,"x":0.28,"y":0.08},{"t":17,"x":-0.235,"y":0.9},{"t":17,"x":-0.35,"y":0.65},{"t":17,"x":-0.46,"y":0.32},{"t":17,"x":-0.55,"y":0.05},{"t":18,"x":-0.2,"y":0.88},{"t":18,"x":-0.26,"y":0.65},{"t":18,"x":-0.33,"y":0.35},{"t":18,"x":-0.4,"y":0.05},{"t":18,"x":-0.42,"y":-0.18},{"t":19,"x":-0.17,"y":0.8},{"t":19,"x":-0.2,"y":0.55},{"t":19,"x":-0.25,"y":0.25},{"t":19,"x":-0.29,"y":-0.05},{"t":19,"x":-0.3,"y":-0.18},{"t":20,"x":-0.16,"y":0.7},{"t":20,"x":-0.16,"y":0.45},{"t":20,"x":-0.17,"y":0.2},{"t":20,"x":-0.18,"y":-0.15},{"t":21,"x":0.18,"y":0.88},{"t":21,"x":0.28,"y":0.6},{"t":21,"x":0.36,"y":0.35},{"t":21,"x":0.44,"y":0.05},{"t":22,"x":0.2,"y":0.85},{"t":22,"x":0.3,"y":0.6},{"t":22,"x":0.38,"y":0.3},{"t":22,"x":0.42,"y":0.05},{"t":23,"x":0.14,"y":0.7},{"t":23,"x":0.22,"y":0.45},{"t":23,"x":0.3,"y":0.18},{"t":23,"x":0.33,"y":-0.02},{"t":24,"x":0.13,"y":0.5},{"t":24,"x":0.17,"y":0.25},{"t":24,"x":0.22,"y":0.05},{"t":24,"x":0.22,"y":-0.12}],
"d1h":[{"t":1,"v":0.022,"x":-0.13,"y":-0.16},{"t":1,"v":0.022,"x":-0.12,"y":-0.12},{"t":1,"v":0.022,"x":-0.09,"y":-0.1},{"t":1,"v":0.022,"x":-0.07,"y":-0.14},{"t":1,"v":0.022,"x":-0.09,"y":-0.19},{"t":2,"v":0.032,"x":-0.1,"y":-0.19},{"t":2,"v":0.032,"x":-0.08,"y":-0.17},{"t":3,"v":0.017,"x":-0.2,"y":-0.2},{"t":3,"v":0.017,"x":-0.1,"y":-0.2},{"t":3,"v":0.017,"x":0.1,"y":-0.2},{"t":4,"v":0.022,"x":0.2,"y":-0.12},{"t":4,"v":0.022,"x":0.25,"y":0.0},{"t":4,"v":0.022,"x":0.32,"y":0.0},{"t":4,"v":0.022,"x":0.35,"y":-0.08},{"t":4,"v":0.022,"x":0.28,"y":-0.12},{"t":4,"v":0.022,"x":0.23,"y":-0.05},{"t":4,"v":0.022,"x":0.24,"y":-0.12},{"t":4,"v":0.022,"x":0.28,"y":-0.14},{"t":5,"v":0.022,"x":0.2,"y":-0.17},{"t":5,"v":0.022,"x":0.3,"y":-0.11},{"t":5,"v":0.022,"x":0.36,"y":-0.05},{"t":5,"v":0.022,"x":0.45,"y":-0.05},{"t":5,"v":0.022,"x":0.47,"y":-0.1},{"t":5,"v":0.022,"x":0.45,"y":-0.14},{"t":5,"v":0.022,"x":0.4,"y":-0.07},{"t":6,"v":0.022,"x":0.33,"y":-0.16},{"t":6,"v":0.022,"x":0.4,"y":-0.2},{"t":6,"v":0.022,"x":0.5,"y":-0.23},{"t":6,"v":0.022,"x":0.55,"y":-0.22},{"t":6,"v":0.022,"x":0.58,"y":-0.2},{"t":6,"v":0.022,"x":0.62,"y":-0.2},{"t":6,"v":0.022,"x":0.66,"y":-0.19},{"t":6,"v":0.022,"x":0.6,"y":-0.18},{"t":6,"v":0.022,"x":0.55,"y":-0.2},{"t":6,"v":0.022,"x":0.54,"y":-0.15},{"t":6,"v":0.022,"x":0.58,"y":-0.13},{"t":6,"v":0.022,"x":0.6,"y":-0.17},{"t":7,"v":0.042,"x":0.38,"y":-0.05},{"t":7,"v":0.042,"x":0.42,"y":-0.03},{"t":8,"v":0.042,"x":0.4,"y":-0.04},{"t":8,"v":0.042,"x":0.44,"y":-0.04},{"t":9,"v":0.042,"x":0.6,"y":-0.2},{"t":9,"v":0.042,"x":0.62,"y":-0.18},{"t":10,"v":0.037,"x":0.39,"y":-0.17},{"t":10,"v":0.037,"x":0.42,"y":-0.19},{"t":11,"v":0.022,"x":0.02,"y":0.9},{"t":11,"v":0.022,"x":0.03,"y":0.93},{"t":12,"v":0.017,"x":0.35,"y":0.1},{"t":12,"v":0.017,"x":0.42,"y":-0.02}],
"d2":[{"t":1,"x":0,"y":0.9},{"t":1,"x":-0.1,"y":0.98},{"t":1,"x":-0.24,"y":0.9},{"t":2,"x":0,"y":0.9},{"t":2,"x":0.1,"y":0.98},{"t":2,"x":0.22,"y":0.93},{"t":3,"x":0,"y":0.9},{"t":3,"x":-0.07,"y":0.95},{"t":3,"x":-0.22,"y":0.9},{"t":4,"x":0,"y":0.9},{"t":4,"x":0.05,"y":0.95},{"t":4,"x":0.17,"y":0.9},{"t":5,"x":0,"y":0.9},{"t":5,"x":0.02,"y":0.98},{"t":5,"x":0.15,"y":0.85},{"t":6,"x":-0.02,"y":0.85},{"t":6,"x":-0.1,"y":0.6},{"t":6,"x":-0.18,"y":0.3},{"t":6,"x":-0.3,"y":-0.2},{"t":7,"x":-0.02,"y":0.85},{"t":7,"x":-0.07,"y":0.55},{"t":7,"x":-0.13,"y":0.2},{"t":7,"x":-0.2,"y":-0.2},{"t":8,"x":-0.01,"y":0.85},{"t":8,"x":-0.03,"y":0.5},{"t":8,"x":-0.06,"y":0.2},{"t":8,"x":-0.08,"y":-0.2},{"t":9,"x":0,"y":0.85},{"t":9,"x":0,"y":0.5},{"t":9,"x":0,"y":0.2},{"t":9,"x":0,"y":-0.2},{"t":10,"x":0,"y":0.85},{"t":10,"x":0.03,"y":0.5},{"t":10,"x":0.06,"y":0.2},{"t":10,"x":0.07,"y":-0.2},{"t":11,"x":0.01,"y":0.85},{"t":11,"x":0.07,"y":0.5},{"t":11,"x":0.12,"y":0.2},{"t":11,"x":0.15,"y":-0.2},{"t":12,"x":0.03,"y":0.85},{"t":12,"x":0.12,"y":0.55},{"t":12,"x":0.22,"y":0.25},{"t":12,"x":0.3,"y":-0.15},{"t":13,"x":0.03,"y":0.85},{"t":13,"x":0.2,"y":0.55},{"t":13,"x":0.32,"y":0.25},{"t":13,"x":0.4,"y":-0.05},{"t":14,"x":-0.03,"y":0.87},{"t":14,"x":-0.15,"y":0.65},{"t":14,"x":-0.28,"y":0.3},{"t":14,"x":-0.38,"y":-0.3},{"t":15,"x":-0.05,"y":0.87},{"t":15,"x":-0.25,"y":0.6},{"t":15,"x":-0.4,"y":0.3},{"t":15,"x":-0.63,"y":-0.29},{"t":16,"x":-0.15,"y":-0.1},{"t":16,"x":-0.05,"y":0.05},{"t":16,"x":0.1,"y":0.1},{"t":16,"x":0.2,"y":0.03},{"t":16,"x":0.25,"y":-0.1},{"t":17,"x":-0.08,"y":-0.12},{"t":17,"x":0.0,"y":0.0},{"t":17,"x":0.1,"y":0.07},{"t":17,"x":0.2,"y":0.0},{"t":18,"x":-0.05,"y":-0.2},{"t":18,"x":0.0,"y":-0.03},{"t":18,"x":0.08,"y":0},{"t":18,"x":0.15,"y":-0.1},{"t":18,"x":0.2,"y":-0.18},{"t":19,"x":0.1,"y":0.02},{"t":19,"x":0.25,"y":0.13},{"t":19,"x":0.38,"y":0.1},{"t":19,"x":0.45,"y":0},{"t":20,"x":-0.03,"y":0.86},{"t":20,"x":-0.13,"y":0.55},{"t":20,"x":-0.22,"y":0.25},{"t":20,"x":-0.26,"y":-0.2},{"t":21,"x":-0.01,"y":0.86},{"t":21,"x":-0.05,"y":0.5},{"t":21,"x":-0.1,"y":0.2},{"t":21,"x":-0.14,"y":-0.2},{"t":22,"x":0.01,"y":0.86},{"t":22,"x":0.05,"y":0.5},{"t":22,"x":0.09,"y":0.2},{"t":22,"x":0.11,"y":-0.2},{"t":23,"x":0.02,"y":0.86},{"t":23,"x":0.1,"y":0.55},{"t":23,"x":0.18,"y":0.25},{"t":23,"x":0.22,"y":-0.1},{"t":24,"x":0.04,"y":0.86},{"t":24,"x":0.17,"y":0.55},{"t":24,"x":0.27,"y":0.25},{"t":24,"x":0.35,"y":0},{"t":25,"x":-0.05,"y":0.88},{"t":25,"x":-0.2,"y":0.65},{"t":25,"x":-0.34,"y":0.3},{"t":25,"x":-0.5,"y":-0.25},{"t":26,"x":-0.06,"y":0.9},{"t":26,"x":-0.28,"y":0.68},{"t":26,"x":-0.44,"y":0.35},{"t":26,"x":-0.6,"y":-0.25}],
"d2h":[{"t":4,"v":0.017,"x":-0.1,"y":0.96},{"t":4,"v":0.017,"x":0,"y":0.9},{"t":4,"v":0.017,"x":0.1,"y":0.96},{"t":5,"v":0.017,"x":0,"y":0.86},{"t":5,"v":0.017,"x":0,"y":0.6},{"t":6,"v":0.032,"x":-0.16,"y":-0.17},{"t":6,"v":0.032,"x":-0.05,"y":-0.18},{"t":6,"v":0.032,"x":0.1,"y":-0.18},{"t":6,"v":0.032,"x":0.2,"y":-0.16},{"t":6,"v":0.032,"x":0.35,"y":-0.12},{"t":6,"v":0.032,"x":0.47,"y":-0.12},{"t":7,"v":0.042,"x":-0.14,"y":-0.17},{"t":7,"v":0.042,"x":-0.1,"y":-0.18}],
"cb":[{"a":0,"b":0.005,"v":0.0025},{"a":0.005,"b":0.01,"v":0.0075},{"a":0.01,"b":0.015,"v":0.0125},{"a":0.015,"b":0.02,"v":0.0175},{"a":0.02,"b":0.025,"v":0.0225},{"a":0.025,"b":0.03,"v":0.0275},{"a":0.03,"b":0.035,"v":0.0325},{"a":0.035,"b":0.04,"v":0.0375},{"a":0.04,"b":0.045,"v":0.0425},{"a":0.045,"b":0.05,"v":0.0475}],
"cbo":[{"a":0,"b":0.05}]
},
"hconcat":[
{"spacing":35.5,"bounds":"flush","vconcat":[
{"width":244,"height":226,"view":{"fill":"#1a1aff","stroke":"#555"},"title":{"text":"Baseline","dx":-5,"offset":6},"encoding":{"x":{"field":"x","type":"quantitative","title":null,"scale":{"domain":[-1,1],"nice":false},"axis":{"values":[-0.5,0,0.5],"format":".1f"}},"y":{"field":"y","type":"quantitative","scale":{"domain":[-0.4,1.2],"nice":false},"axis":{"title":"Intervention Position","titleX":-53,"titleY":108,"titleBaseline":"middle","titleAlign":"center","values":[-0.2,0,0.2,0.4,0.6,0.8,1],"format":".1f"}},"detail":{"field":"t"},"order":{"value":null}},"layer":[{"data":{"name":"a1"},"mark":{"type":"line","interpolate":"cardinal","stroke":"#d0d0ff","strokeWidth":0.8,"strokeDash":[1,2]}},{"data":{"name":"a1h"},"mark":{"type":"line","interpolate":"cardinal","strokeWidth":0.9},"encoding":{"color":{"field":"v","type":"quantitative","legend":null,"scale":{"type":"quantize","domain":[0,0.05],"range":["#1a1aff","#4d4dff","#8080ff","#b3b3ff","#e6e6ff","#ffe6e6","#ffb3b3","#ff8080","#ff4d4d","#ff1a1a"]}}}}]},
{"width":244,"height":226,"view":{"fill":"#1a1aff","stroke":"#555"},"encoding":{"x":{"field":"x","type":"quantitative","title":null,"scale":{"domain":[-1,1],"nice":false},"axis":{"values":[-0.5,0,0.5],"format":".1f"}},"y":{"field":"y","type":"quantitative","scale":{"domain":[-0.4,1.2],"nice":false},"axis":{"title":"Full Position","titleX":-53,"titleY":109,"titleBaseline":"middle","titleAlign":"center","values":[-0.2,0,0.2,0.4,0.6,0.8,1],"format":".1f"}},"detail":{"field":"t"},"order":{"value":null}},"layer":[{"data":{"name":"a1"},"mark":{"type":"line","interpolate":"cardinal","stroke":"#d0d0ff","strokeWidth":0.8,"strokeDash":[1,2]}},{"data":{"name":"a2"},"mark":{"type":"line","interpolate":"cardinal","stroke":"#d0d0ff","strokeWidth":0.8,"strokeDash":[1,2]}},{"data":{"name":"a1h"},"mark":{"type":"line","interpolate":"cardinal","strokeWidth":0.9},"encoding":{"color":{"field":"v","type":"quantitative","legend":null,"scale":{"type":"quantize","domain":[0,0.05],"range":["#1a1aff","#4d4dff","#8080ff","#b3b3ff","#e6e6ff","#ffe6e6","#ffb3b3","#ff8080","#ff4d4d","#ff1a1a"]}}}},{"data":{"name":"a2h"},"mark":{"type":"line","interpolate":"cardinal","strokeWidth":1},"encoding":{"color":{"field":"v","type":"quantitative","legend":null,"scale":{"type":"quantize","domain":[0,0.05],"range":["#1a1aff","#4d4dff","#8080ff","#b3b3ff","#e6e6ff","#ffe6e6","#ffb3b3","#ff8080","#ff4d4d","#ff1a1a"]}}}},{"data":{"name":"s"},"mark":{"type":"line","strokeWidth":2.2},"encoding":{"color":{"field":"v","type":"quantitative","legend":null,"scale":{"type":"quantize","domain":[0,0.05],"range":["#1a1aff","#4d4dff","#8080ff","#b3b3ff","#e6e6ff","#ffe6e6","#ffb3b3","#ff8080","#ff4d4d","#ff1a1a"]}}}}]}
]},
{"width":5.7,"height":10,"data":{"values":[]},"mark":"point"},
{"spacing":35.5,"bounds":"flush","vconcat":[
{"width":244,"height":226,"view":{"fill":"#1a1aff","stroke":"#555"},"title":{"text":"Budget","dx":-6,"offset":8},"encoding":{"x":{"field":"x","type":"quantitative","title":null,"scale":{"domain":[-1,1],"nice":false},"axis":{"values":[-0.5,0,0.5],"format":".1f"}},"y":{"field":"y","type":"quantitative","title":null,"scale":{"domain":[-0.4,1.2],"nice":false},"axis":{"values":[-0.2,0,0.2,0.4,0.6,0.8,1],"format":".1f"}},"detail":{"field":"t"},"order":{"value":null}},"layer":[{"data":{"name":"b1"},"mark":{"type":"line","interpolate":"cardinal","stroke":"#d0d0ff","strokeWidth":0.8,"strokeDash":[1,3.5]}},{"data":{"name":"b1h"},"mark":{"type":"line","interpolate":"cardinal","strokeWidth":0.8,"strokeDash":[1,1.5]},"encoding":{"color":{"field":"v","type":"quantitative","legend":null,"scale":{"type":"quantize","domain":[0,0.05],"range":["#1a1aff","#4d4dff","#8080ff","#b3b3ff","#e6e6ff","#ffe6e6","#ffb3b3","#ff8080","#ff4d4d","#ff1a1a"]}}}}]},
{"width":244,"height":226,"view":{"fill":"#1a1aff","stroke":"#555"},"encoding":{"x":{"field":"x","type":"quantitative","title":null,"scale":{"domain":[-1,1],"nice":false},"axis":{"values":[-0.5,0,0.5],"format":".1f"}},"y":{"field":"y","type":"quantitative","title":null,"scale":{"domain":[-0.4,1.2],"nice":false},"axis":{"values":[-0.2,0,0.2,0.4,0.6,0.8,1],"format":".1f"}},"detail":{"field":"t"},"order":{"value":null}},"layer":[{"data":{"name":"b1"},"mark":{"type":"line","interpolate":"cardinal","stroke":"#d0d0ff","strokeWidth":0.8,"strokeDash":[1,2.5]}},{"data":{"name":"b2"},"mark":{"type":"line","interpolate":"cardinal","stroke":"#d0d0ff","strokeWidth":0.8,"strokeDash":[1,2]}},{"data":{"name":"b2h"},"mark":{"type":"line","interpolate":"cardinal","strokeWidth":1},"encoding":{"color":{"field":"v","type":"quantitative","legend":null,"scale":{"type":"quantize","domain":[0,0.05],"range":["#1a1aff","#4d4dff","#8080ff","#b3b3ff","#e6e6ff","#ffe6e6","#ffb3b3","#ff8080","#ff4d4d","#ff1a1a"]}}}},{"data":{"name":"s"},"mark":{"type":"line","strokeWidth":2.2},"encoding":{"color":{"field":"v","type":"quantitative","legend":null,"scale":{"type":"quantize","domain":[0,0.05],"range":["#1a1aff","#4d4dff","#8080ff","#b3b3ff","#e6e6ff","#ffe6e6","#ffb3b3","#ff8080","#ff4d4d","#ff1a1a"]}}}}]}
]},
{"width":3,"height":10,"data":{"values":[]},"mark":"point"},
{"spacing":35.5,"bounds":"flush","vconcat":[
{"width":244,"height":226,"view":{"fill":"#1a1aff","stroke":"#222"},"title":{"text":"Penalty","dx":-5,"offset":11},"encoding":{"x":{"field":"x","type":"quantitative","title":null,"scale":{"domain":[-1,1],"nice":false},"axis":{"values":[-0.5,0,0.5],"format":".1f"}},"y":{"field":"y","type":"quantitative","title":null,"scale":{"domain":[-0.4,1.2],"nice":false},"axis":{"values":[-0.2,0,0.2,0.4,0.6,0.8,1],"format":".1f"}},"detail":{"field":"t"},"order":{"value":null}},"layer":[{"data":{"name":"c1"},"mark":{"type":"line","interpolate":"cardinal","stroke":"#d0d0ff","strokeWidth":0.8,"strokeDash":[1,3]}},{"data":{"name":"c1h"},"mark":{"type":"line","interpolate":"cardinal","strokeWidth":0.8,"strokeDash":[1,1.5]},"encoding":{"color":{"field":"v","type":"quantitative","legend":null,"scale":{"type":"quantize","domain":[0,0.05],"range":["#1a1aff","#4d4dff","#8080ff","#b3b3ff","#e6e6ff","#ffe6e6","#ffb3b3","#ff8080","#ff4d4d","#ff1a1a"]}}}}]},
{"width":244,"height":226,"view":{"fill":"#1a1aff","stroke":"#222"},"encoding":{"x":{"field":"x","type":"quantitative","title":null,"scale":{"domain":[-1,1],"nice":false},"axis":{"values":[-0.5,0,0.5],"format":".1f"}},"y":{"field":"y","type":"quantitative","title":null,"scale":{"domain":[-0.4,1.2],"nice":false},"axis":{"values":[-0.2,0,0.2,0.4,0.6,0.8,1],"format":".1f"}},"detail":{"field":"t"},"order":{"value":null}},"layer":[{"data":{"name":"c1"},"mark":{"type":"line","interpolate":"cardinal","stroke":"#d0d0ff","strokeWidth":0.8,"strokeDash":[1,2.5]}},{"data":{"name":"c2"},"mark":{"type":"line","interpolate":"cardinal","stroke":"#d0d0ff","strokeWidth":0.8,"strokeDash":[1,2]}},{"data":{"name":"c2h"},"mark":{"type":"line","interpolate":"cardinal","strokeWidth":1},"encoding":{"color":{"field":"v","type":"quantitative","legend":null,"scale":{"type":"quantize","domain":[0,0.05],"range":["#1a1aff","#4d4dff","#8080ff","#b3b3ff","#e6e6ff","#ffe6e6","#ffb3b3","#ff8080","#ff4d4d","#ff1a1a"]}}}},{"data":{"name":"s"},"mark":{"type":"line","strokeWidth":2.2},"encoding":{"color":{"field":"v","type":"quantitative","legend":null,"scale":{"type":"quantize","domain":[0,0.05],"range":["#1a1aff","#4d4dff","#8080ff","#b3b3ff","#e6e6ff","#ffe6e6","#ffb3b3","#ff8080","#ff4d4d","#ff1a1a"]}}}}]}
]},
{"width":0.1,"height":10,"data":{"values":[]},"mark":"point"},
{"spacing":35.5,"bounds":"flush","vconcat":[
{"width":244,"height":226,"view":{"fill":"#1a1aff","stroke":"#333"},"title":{"text":"Penalty Adapting","dx":6,"offset":7},"encoding":{"x":{"field":"x","type":"quantitative","title":null,"scale":{"domain":[-1,1],"nice":false},"axis":{"values":[-0.5,0,0.5],"format":".1f"}},"y":{"field":"y","type":"quantitative","title":null,"scale":{"domain":[-0.4,1.2],"nice":false},"axis":{"values":[-0.2,0,0.2,0.4,0.6,0.8,1],"format":".1f"}},"detail":{"field":"t"},"order":{"value":null}},"layer":[{"data":{"name":"d1"},"mark":{"type":"line","interpolate":"cardinal","stroke":"#d0d0ff","strokeWidth":0.8,"strokeDash":[1,3]}},{"data":{"name":"d1h"},"mark":{"type":"line","interpolate":"cardinal","strokeWidth":1},"encoding":{"color":{"field":"v","type":"quantitative","legend":null,"scale":{"type":"quantize","domain":[0,0.05],"range":["#1a1aff","#4d4dff","#8080ff","#b3b3ff","#e6e6ff","#ffe6e6","#ffb3b3","#ff8080","#ff4d4d","#ff1a1a"]}}}}]},
{"width":244,"height":226,"view":{"fill":"#1a1aff","stroke":"#333"},"encoding":{"x":{"field":"x","type":"quantitative","title":null,"scale":{"domain":[-1,1],"nice":false},"axis":{"values":[-0.5,0,0.5],"format":".1f"}},"y":{"field":"y","type":"quantitative","title":null,"scale":{"domain":[-0.4,1.2],"nice":false},"axis":{"values":[-0.2,0,0.2,0.4,0.6,0.8,1],"format":".1f"}},"detail":{"field":"t"},"order":{"value":null}},"layer":[{"data":{"name":"d1"},"mark":{"type":"line","interpolate":"cardinal","stroke":"#d0d0ff","strokeWidth":0.8,"strokeDash":[1,2.5]}},{"data":{"name":"d2"},"mark":{"type":"line","interpolate":"cardinal","stroke":"#d0d0ff","strokeWidth":0.8,"strokeDash":[1,2]}},{"data":{"name":"d1h"},"mark":{"type":"line","interpolate":"cardinal","strokeWidth":1},"encoding":{"color":{"field":"v","type":"quantitative","legend":null,"scale":{"type":"quantize","domain":[0,0.05],"range":["#1a1aff","#4d4dff","#8080ff","#b3b3ff","#e6e6ff","#ffe6e6","#ffb3b3","#ff8080","#ff4d4d","#ff1a1a"]}}}},{"data":{"name":"d2h"},"mark":{"type":"line","interpolate":"cardinal","strokeWidth":1},"encoding":{"color":{"field":"v","type":"quantitative","legend":null,"scale":{"type":"quantize","domain":[0,0.05],"range":["#1a1aff","#4d4dff","#8080ff","#b3b3ff","#e6e6ff","#ffe6e6","#ffb3b3","#ff8080","#ff4d4d","#ff1a1a"]}}}},{"data":{"name":"s"},"mark":{"type":"line","strokeWidth":2.2},"encoding":{"color":{"field":"v","type":"quantitative","legend":null,"scale":{"type":"quantize","domain":[0,0.05],"range":["#1a1aff","#4d4dff","#8080ff","#b3b3ff","#e6e6ff","#ffe6e6","#ffb3b3","#ff8080","#ff4d4d","#ff1a1a"]}}}}]}
]},
{"width":9,"height":10,"data":{"values":[]},"mark":"point"},
{"width":20.7,"height":487.5,"encoding":{"y":{"field":"a","type":"quantitative","title":null,"scale":{"domain":[-0.00515,0.05501],"nice":false,"zero":false},"axis":{"orient":"right","values":[0,0.01,0.02,0.03,0.04],"format":".2f","ticks":true,"tickSize":4,"tickColor":"#000","labelPadding":3,"labelFontSize":17}},"y2":{"field":"b"}},"layer":[{"data":{"name":"cb"},"mark":{"type":"rect"},"encoding":{"color":{"field":"v","type":"quantitative","legend":null,"scale":{"type":"quantize","domain":[0,0.05],"range":["#1a1aff","#4d4dff","#8080ff","#b3b3ff","#e6e6ff","#ffe6e6","#ffb3b3","#ff8080","#ff4d4d","#ff1a1a"]}}}},{"data":{"name":"cbo"},"mark":{"type":"rect","fill":null,"stroke":"#222","strokeWidth":0.8}}]}
]}
